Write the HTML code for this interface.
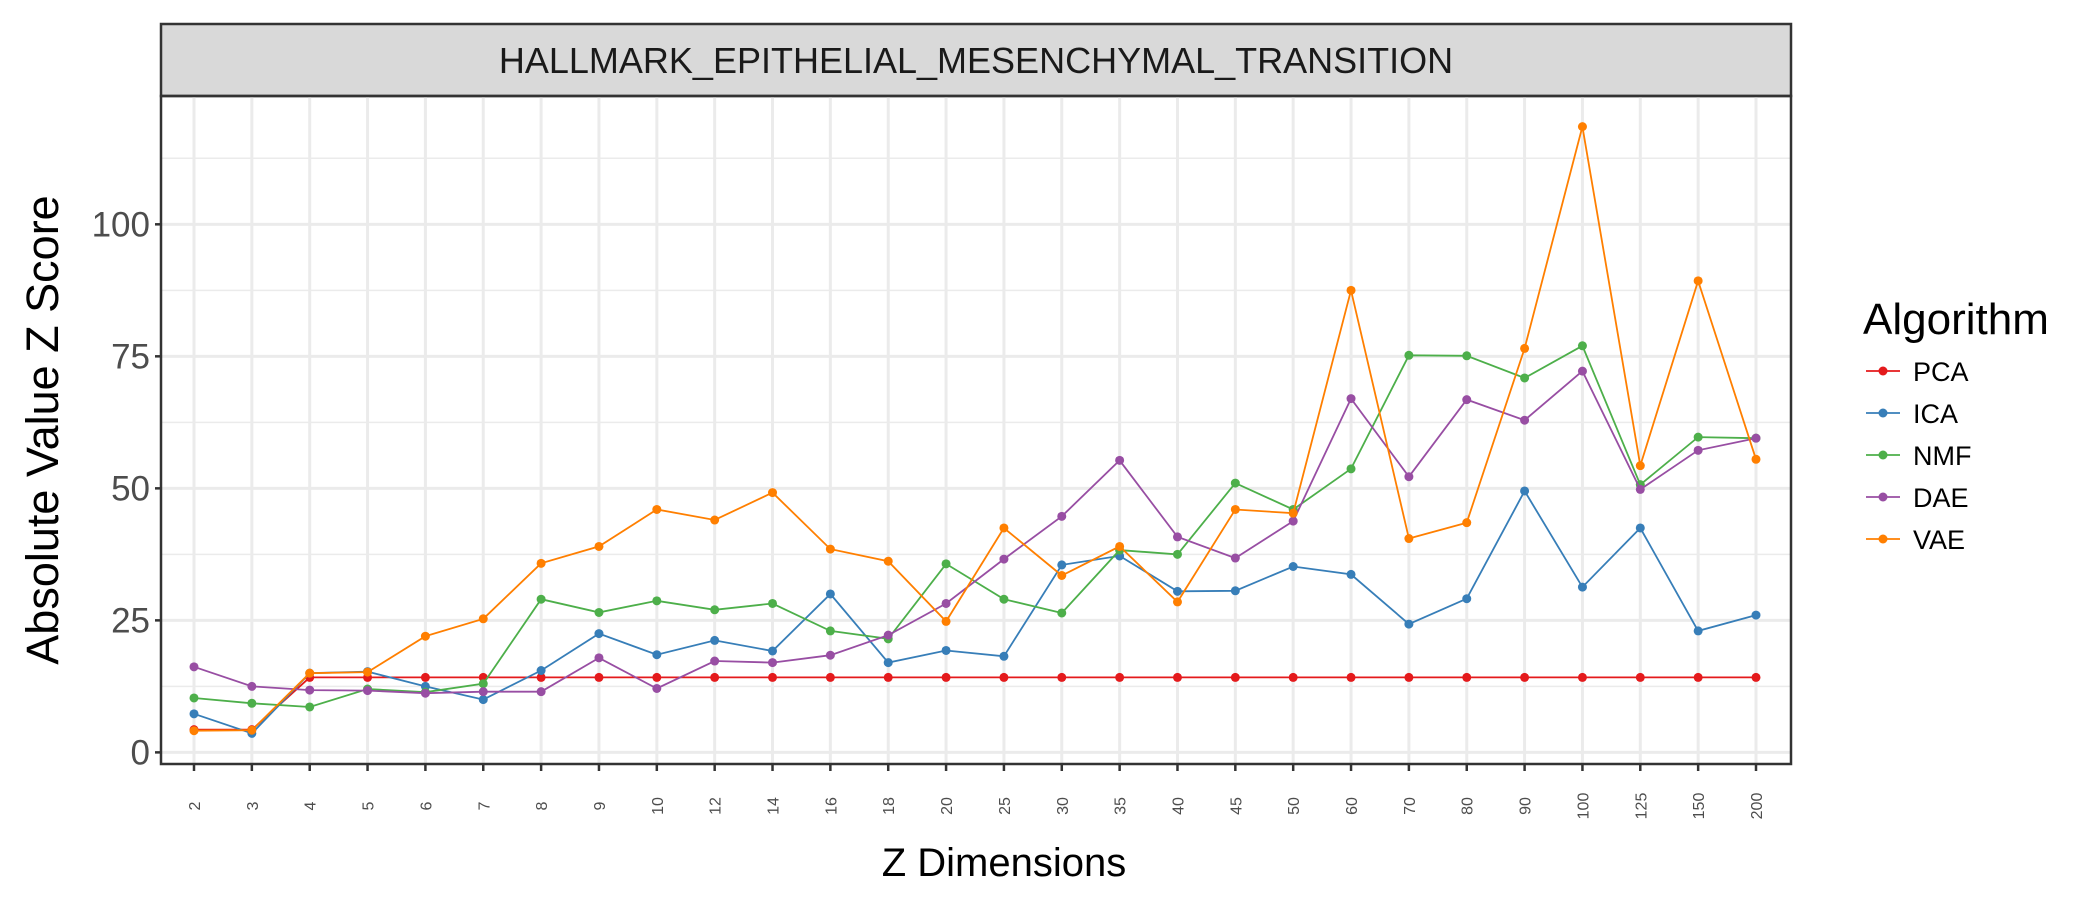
<!DOCTYPE html>
<html><head><meta charset="utf-8"><style>
html,body{margin:0;padding:0;background:#fff;}
svg{display:block;font-family:"Liberation Sans",Arial,sans-serif;}
</style></head><body>
<svg id="chart" width="2100" height="900" viewBox="0 0 2100 900" xmlns="http://www.w3.org/2000/svg"></svg>
<script>
const categories=["2","3","4","5","6","7","8","9","10","12","14","16","18","20","25","30","35","40","45","50","60","70","80","90","100","125","150","200"];
const seriesNames=["PCA","ICA","NMF","DAE","VAE"];
const seriesColors=["#e41a1c","#377eb8","#4daf4a","#984ea3","#ff7f00"];
const pca=[4.3,4.3,14.2,14.2,14.2,14.2,14.2,14.2,14.2,14.2,14.2,14.2,14.2,14.2,14.2,14.2,14.2,14.2,14.2,14.2,14.2,14.2,14.2,14.2,14.2,14.2,14.2,14.2];
const ica=[7.3,3.6,15,15.3,12.5,10,15.5,22.5,18.5,21.2,19.2,30,17,19.3,18.2,35.5,37.2,30.5,30.6,35.2,33.7,24.3,29.1,49.5,31.3,42.5,23,26];
const nmf=[10.3,9.3,8.6,12,11.4,13,29,26.5,28.7,27,28.2,23,21.5,35.7,29,26.4,38.3,37.5,51,46,53.7,75.2,75.1,70.9,77,50.7,59.7,59.5];
const dae=[16.2,12.5,11.8,11.7,11.2,11.5,11.5,17.9,12.1,17.3,17,18.4,22.2,28.2,36.6,44.7,55.3,40.8,36.8,43.8,67,52.2,66.8,62.9,72.2,49.8,57.2,59.5];
const vae=[4.1,4.2,15,15.2,22,25.3,35.8,39,46,44,49.2,38.5,36.2,24.8,42.5,33.5,39,28.5,46,45.3,87.5,40.5,43.5,76.5,118.5,54.3,89.3,55.5];
const yTicks=[0,25,50,75,100];
const yMinor=[12.5,37.5,62.5,87.5,112.5];

const svg=document.getElementById('chart');
const NS="http://www.w3.org/2000/svg";
function mk(tag,attrs,parent){const e=document.createElementNS(NS,tag);for(const k in attrs)e.setAttribute(k,attrs[k]);(parent||svg).appendChild(e);return e;}

const PL=161,PR=1791,PT=96,PB=764;
const yMin=-2.2,yMax=124.3;
function yS(v){return PB-(v-yMin)/(yMax-yMin)*(PB-PT);}
function xS(i){return 194+i*(1756-194)/(categories.length-1);}

let strip=mk('rect',{x:PL,y:24,width:PR-PL,height:PT-24,fill:'#d9d9d9',stroke:'#333',"stroke-width":2.5});


let st=mk('text',{x:(PL+PR)/2,y:73,"text-anchor":"middle","font-size":36,fill:'#1a1a1a'});
st.textContent="HALLMARK_EPITHELIAL_MESENCHYMAL_TRANSITION";



const grid=mk('g',{});


yMinor.forEach(v=>mk('line',{x1:PL,x2:PR,y1:yS(v),y2:yS(v),stroke:'#ebebeb',"stroke-width":1.5},grid));
yTicks.forEach(v=>mk('line',{x1:PL,x2:PR,y1:yS(v),y2:yS(v),stroke:'#ebebeb',"stroke-width":3},grid));
categories.forEach((c,i)=>mk('line',{x1:xS(i),x2:xS(i),y1:PT,y2:PB,stroke:'#ebebeb',"stroke-width":3},grid));

const allData=[pca,ica,nmf,dae,vae];
allData.forEach((d,si)=>{
  const g=mk('g',{});
  
  
  const pts=d.map((v,i)=>xS(i).toFixed(1)+','+yS(v).toFixed(1)).join(' ');
  const pl=mk('polyline',{points:pts,fill:'none',stroke:seriesColors[si],"stroke-width":1.8},g);
  
  
  d.forEach((v,i)=>{
    const c=mk('circle',{cx:xS(i),cy:yS(v),r:4.5,fill:seriesColors[si]},g);
    
    
  });
});

let br=mk('rect',{x:PL,y:PT,width:PR-PL,height:PB-PT,fill:'none',stroke:'#333',"stroke-width":2.5});



yTicks.forEach(v=>{
  mk('line',{x1:PL-6,x2:PL,y1:yS(v),y2:yS(v),stroke:'#333',"stroke-width":2.5});
  const t=mk('text',{x:PL-11,y:yS(v)+12,"text-anchor":"end","font-size":35,fill:'#4d4d4d'});
  t.textContent=v;
  
  
});
categories.forEach((c,i)=>{
  mk('line',{x1:xS(i),x2:xS(i),y1:PB,y2:PB+7,stroke:'#333',"stroke-width":2.5});
  const t=mk('text',{x:0,y:0,"text-anchor":"middle","font-size":16,fill:'#4d4d4d',transform:`translate(${xS(i)+6},${PB+42}) rotate(-90)`});
  t.textContent=c;
  
  
});
let yt=mk('text',{x:0,y:0,"text-anchor":"middle","font-size":45,fill:'#000',transform:`translate(58,${(PT+PB)/2}) rotate(-90)`});
yt.textContent="Absolute Value Z Score";


let xt=mk('text',{x:1004,y:876,"text-anchor":"middle","font-size":40,fill:'#000'});
xt.textContent="Z Dimensions";



const lg=mk('g',{});


let lt=mk('text',{x:1863,y:334,"font-size":44,fill:'#000'},lg);
lt.textContent="Algorithm";


seriesNames.forEach((n,i)=>{
  const y=371+i*42;
  const e=mk('g',{},lg);
  
  
  mk('line',{x1:1866,x2:1900,y1:y,y2:y,stroke:seriesColors[i],"stroke-width":1.8},e);
  mk('circle',{cx:1883,cy:y,r:4.5,fill:seriesColors[i]},e);
  const t=mk('text',{x:1913,y:y+10,"font-size":27,fill:'#000'},e);
  t.textContent=n;
});
</script>
</body></html>
